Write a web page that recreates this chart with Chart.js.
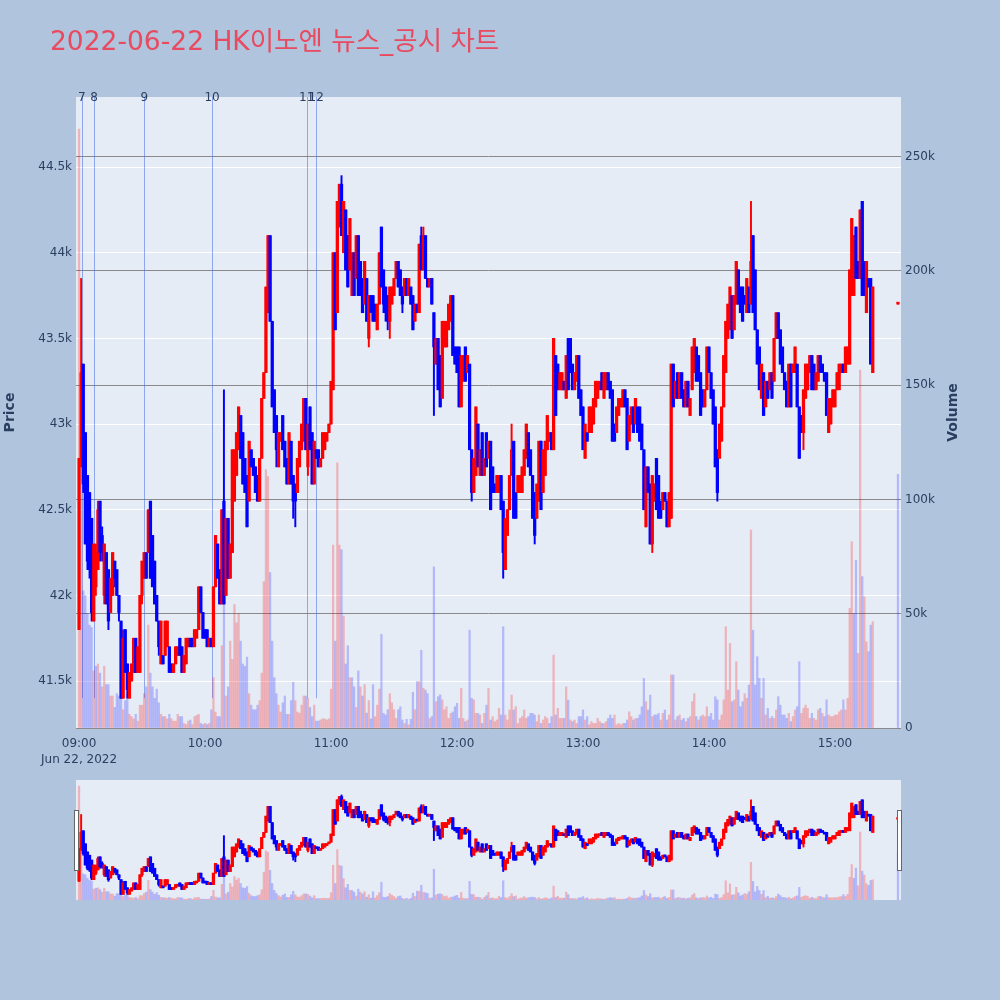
<!DOCTYPE html>
<html>
<head>
<meta charset="utf-8">
<script src="https://cdn.jsdelivr.net/npm/chart.js@4.4.0/dist/chart.umd.min.js"></script>
<style>
  html, body { margin: 0; padding: 0; background: #b0c4de; }
  #wrap { position: relative; width: 1000px; height: 1000px; }
  #main { position: absolute; left: 0; top: 0; }
  #slider { position: absolute; left: 0; top: 780px; }
</style>
</head>
<body>
<div id="wrap">
  <canvas id="main" width="1000" height="775" style="width:1000px;height:775px"></canvas>
  <canvas id="slider" width="1000" height="120" style="width:1000px;height:120px"></canvas>
</div>
<script>
/* ── DATA ── */
const chartTitle = '2022-06-22 HK이노엔 뉴스_공시 차트';
const dateLabel  = 'Jun 22, 2022';
const startTime  = '09:00';            // first 1-minute candle, one candle per minute after that

const opens = [
  41800,42800,43350,42950,42700,42600,42450,41850,42050,42150,
  42550,42350,42000,42250,42150,41900,42000,42200,42150,42000,
  41850,41400,41800,41600,41400,41500,41550,41750,41550,41550,
  42000,42100,42250,42250,42550,42350,42200,42000,41850,41600,
  41650,41650,41700,41700,41600,41550,41600,41650,41750,41700,
  41550,41600,41700,41750,41750,41700,41750,41800,42050,41900,
  41800,41800,41700,41750,41700,42050,42300,42150,41950,42550,
  42000,42450,42100,42250,42550,42700,42850,43050,42950,42800,
  42700,42550,42850,42800,42750,42700,42550,42800,43150,43300,
  43650,44100,43600,43200,43050,42750,42900,43050,42900,42800,
  42650,42900,42700,42650,42600,42750,42850,42900,43150,42750,
  43100,42950,42650,42850,42850,42750,42800,42850,42900,42950,
  43000,43200,44000,43650,44150,44400,44000,44250,44100,43900,
  43750,44000,43850,44100,43950,43850,43700,43850,43500,43750,
  43750,43700,43550,43700,44150,43900,43800,43750,43600,43700,
  43750,43850,43950,43900,43800,43750,43850,43750,43800,43750,
  43600,43700,43650,44100,43900,44100,43850,43800,43850,43650,
  43350,43500,43400,43150,43450,43450,43550,43600,43750,43450,
  43450,43450,43100,43250,43450,43300,43350,42850,42600,42700,
  43000,42700,42950,42700,42950,42800,42900,42750,42650,42600,
  42600,42700,42550,42150,42350,42500,42700,42900,42600,42600,
  42600,42600,42700,42800,42950,42850,42700,42600,42450,42550,
  42900,42600,42700,42850,42900,42950,42850,43400,43350,43200,
  43200,43250,43150,43500,43500,43350,43200,43250,43400,43200,
  43100,42800,42950,42950,42950,43000,43100,43150,43200,43300,
  43150,43200,43300,43250,43200,43000,42950,43050,43100,43100,
  43200,43150,42900,43000,43100,43000,43100,43100,43000,42850,
  42400,42750,42650,42300,42550,42800,42700,42550,42500,42600,
  42550,42400,42450,43350,43150,43300,43150,43300,43200,43100,
  43250,43050,43200,43300,43450,43400,43300,43200,43100,43200,
  43450,43300,43200,43100,42850,42800,42900,43100,43300,43500,
  43550,43750,43550,43700,43900,43800,43800,43750,43650,43800,
  43700,44100,43900,43550,43450,43150,43300,43100,43250,43200,
  43300,43250,43500,43650,43550,43450,43300,43250,43100,43350,
  43300,43300,43350,43100,43050,42950,43150,43200,43300,43400,
  43350,43200,43250,43400,43350,43300,43300,42950,43000,43100,
  43100,43200,43200,43300,43350,43300,43350,43350,43750,43750,
  44150,43950,43850,44300,43950,43650,43850,43850,43300
];
const highs = [
  42800,43850,43350,42950,42700,42600,42450,42300,42300,42550,
  42550,42400,42300,42250,42150,42100,42250,42200,42150,42000,
  41850,41800,41800,41600,41550,41600,41750,41750,41700,42000,
  42200,42250,42250,42500,42550,42350,42200,42000,41850,41850,
  41650,41850,41850,41700,41600,41600,41700,41700,41750,41700,
  41650,41750,41750,41750,41750,41800,41800,42050,42050,41900,
  41800,41800,41750,41750,42050,42350,42300,42150,42500,43200,
  42450,42450,42300,42850,42850,42950,43100,43050,42950,42800,
  42700,42900,42850,42800,42750,42700,42800,43150,43300,43800,
  44100,44100,43600,43200,43050,42950,42950,43050,42900,42800,
  42950,42900,42700,42650,42800,42900,43000,43150,43150,43000,
  43100,42950,42900,42850,42850,42800,42950,42950,42950,43000,
  43250,44000,44000,44300,44400,44450,44300,44250,44100,44200,
  44000,44000,44100,44100,43950,43850,43950,43850,43750,43750,
  43750,43700,43700,44000,44150,43900,43800,43750,43800,43800,
  43850,43950,43950,43900,43800,43850,43850,43850,43800,43750,
  43700,43700,44050,44150,44150,44100,43850,43850,43850,43650,
  43500,43500,43400,43600,43600,43600,43700,43750,43750,43450,
  43450,43450,43400,43400,43450,43400,43350,42850,42800,43100,
  43000,42850,42950,42800,42950,42900,42900,42750,42650,42700,
  42700,42700,42550,42450,42500,42700,43000,42900,42600,42700,
  42700,42750,42850,43000,42950,42850,42700,42600,42650,42900,
  42900,42850,42900,43050,42950,42950,43500,43400,43350,43300,
  43300,43250,43400,43500,43500,43350,43300,43400,43400,43200,
  43100,43000,42950,43100,43100,43150,43250,43250,43250,43300,
  43300,43300,43300,43250,43200,43000,43100,43150,43150,43200,
  43200,43150,43050,43100,43100,43150,43100,43100,43000,42850,
  42750,42750,42650,42700,42650,42800,42700,42550,42600,42600,
  42550,42600,43350,43350,43250,43300,43300,43300,43200,43250,
  43250,43150,43450,43500,43450,43400,43300,43200,43200,43450,
  43450,43300,43200,43100,42850,43000,43100,43400,43600,43700,
  43800,43750,43750,43950,43900,43800,43800,43750,43850,43800,
  44300,44100,43900,43550,43450,43350,43300,43250,43250,43300,
  43300,43500,43650,43650,43550,43450,43300,43250,43350,43350,
  43350,43450,43350,43100,43050,43200,43350,43350,43400,43400,
  43350,43300,43400,43400,43350,43300,43300,43150,43150,43200,
  43200,43300,43350,43350,43350,43450,43450,43900,44200,44100,
  44150,43950,44250,44300,43950,43950,43850,43850,43800
];
const lows = [
  41800,42750,42600,42300,42150,42100,41850,41850,42000,42150,
  42200,42200,41950,41950,41800,41900,42000,42050,42000,41850,
  41400,41400,41550,41400,41400,41500,41550,41550,41550,41550,
  41950,42100,42100,42250,42100,42050,41950,41850,41650,41600,
  41600,41650,41700,41550,41550,41550,41600,41650,41650,41550,
  41550,41600,41700,41700,41700,41700,41750,41800,41900,41750,
  41750,41700,41700,41700,41700,42050,42100,41950,41950,41950,
  42000,42100,42100,42250,42550,42700,42850,42800,42650,42600,
  42400,42550,42750,42700,42600,42550,42550,42800,43150,43300,
  43650,43600,43100,42950,42750,42750,42900,42850,42750,42650,
  42650,42650,42450,42400,42600,42750,42850,42900,42850,42700,
  42850,42650,42650,42800,42750,42750,42800,42850,42900,42950,
  43000,43200,43550,43650,44150,44100,44000,43900,43800,43900,
  43750,43750,43850,43750,43750,43650,43700,43600,43450,43650,
  43600,43600,43550,43700,43800,43650,43600,43550,43500,43700,
  43750,43850,43800,43750,43650,43750,43750,43750,43700,43550,
  43600,43650,43650,43900,43900,43850,43800,43800,43700,43050,
  43350,43200,43100,43150,43450,43450,43550,43600,43400,43350,
  43300,43100,43100,43250,43250,43300,42850,42550,42600,42700,
  42750,42700,42700,42700,42750,42800,42500,42600,42600,42600,
  42600,42500,42100,42150,42350,42500,42700,42450,42450,42600,
  42600,42600,42700,42800,42750,42700,42450,42300,42450,42550,
  42500,42600,42700,42850,42900,42850,42850,43050,43200,43200,
  43200,43200,43150,43200,43300,43200,43200,43250,43150,43050,
  42850,42800,42900,42950,42950,43000,43100,43150,43200,43200,
  43150,43200,43200,43150,42900,42900,42950,43050,43100,43100,
  43100,42850,42900,43000,42950,43000,42950,42900,42850,42500,
  42400,42600,42300,42250,42550,42500,42450,42450,42500,42550,
  42400,42400,42450,43100,43150,43150,43150,43150,43100,43100,
  43100,43050,43200,43300,43250,43250,43050,43100,43100,43200,
  43300,43150,43000,42750,42550,42800,42900,43100,43300,43500,
  43550,43500,43550,43700,43700,43650,43600,43700,43650,43650,
  43700,43650,43550,43350,43200,43150,43050,43100,43150,43200,
  43150,43250,43500,43500,43350,43300,43200,43100,43100,43100,
  43300,43300,43100,42800,42950,42850,43150,43200,43300,43200,
  43200,43200,43250,43300,43300,43250,43050,42950,43000,43100,
  43100,43200,43200,43300,43300,43300,43350,43350,43750,43750,
  43850,43850,43850,43750,43750,43650,43800,43350,43300
];
const closes = [
  42800,43300,42650,42300,42200,42150,41900,42300,42250,42500,
  42250,42250,42300,41950,41850,42100,42250,42100,42000,41900,
  41400,41750,41550,41450,41550,41600,41750,41550,41700,42000,
  42200,42250,42100,42500,42100,42050,41950,41850,41700,41850,
  41600,41850,41850,41550,41550,41600,41700,41700,41650,41550,
  41650,41750,41750,41700,41700,41800,41800,42050,41900,41750,
  41750,41700,41750,41700,42050,42350,42100,41950,42500,41950,
  42450,42100,42300,42850,42850,42950,43100,42800,42650,42600,
  42400,42900,42750,42700,42600,42550,42800,43150,43300,43800,
  44100,43600,43100,42950,42850,42950,42950,42850,42750,42650,
  42950,42650,42550,42550,42800,42900,43000,43150,42850,43000,
  42850,42650,42900,42800,42750,42800,42950,42950,42950,43000,
  43250,44000,43550,44300,44400,44100,44300,43900,43800,44200,
  44000,43750,44100,43750,43750,43650,43950,43600,43750,43650,
  43600,43600,43700,44000,43800,43700,43650,43600,43800,43800,
  43850,43950,43800,43750,43700,43850,43750,43850,43700,43550,
  43700,43650,44050,43900,44100,43850,43800,43850,43700,43450,
  43500,43200,43100,43600,43600,43600,43700,43750,43400,43350,
  43300,43100,43400,43400,43250,43400,42850,42600,42800,43100,
  42750,42850,42700,42800,42750,42900,42500,42600,42600,42700,
  42700,42500,42250,42450,42500,42700,42850,42450,42450,42700,
  42700,42750,42850,43000,42750,42700,42450,42350,42650,42900,
  42500,42850,42900,43050,42950,42850,43500,43050,43200,43300,
  43300,43200,43400,43200,43300,43200,43300,43400,43150,43050,
  42850,43000,42900,43100,43100,43150,43250,43250,43250,43200,
  43300,43300,43200,43150,42900,42900,43100,43150,43150,43200,
  43100,42850,43050,43100,42950,43150,42950,42900,42850,42500,
  42750,42600,42300,42700,42650,42500,42450,42450,42600,42550,
  42400,42600,43350,43100,43250,43150,43300,43150,43100,43250,
  43100,43150,43450,43500,43250,43250,43050,43100,43200,43450,
  43300,43150,43000,42750,42600,43000,43100,43400,43600,43700,
  43800,43500,43750,43950,43700,43650,43600,43700,43850,43650,
  43950,43650,43550,43350,43200,43350,43050,43250,43150,43300,
  43150,43500,43650,43500,43350,43300,43200,43100,43350,43100,
  43350,43450,43100,42800,42950,43200,43350,43350,43400,43200,
  43200,43300,43400,43300,43300,43250,43050,43150,43150,43200,
  43200,43300,43350,43350,43300,43450,43450,43900,44200,44100,
  43850,43850,44250,43750,43750,43950,43800,43350,43800
];
// volume per candle, thousands of shares
const volumesK = [
  262,150,60,58,50,45,44,25,27,28,
  24,18,27,19,19,14,14,9,15,14,
  14,8,12,15,6,5,4,6,3,10,
  10,15,18,45,24,18,13,17,11,6,
  5,5,4,6,4,3,3,6,5,5,
  2,1.5,3,3.5,1.5,5,5.5,6,2,1.5,
  2,1.5,2,8,22,7,5,5,36,60,
  14,18,38,30,54,46,50,38,28,27,
  31,15,10,8,8,10,12,24,64,113,
  110,68,38,22,15,10,7,11,14,6,
  6,12,20,12,7,6.5,10,14,14,13,
  9,5,10,3,3,3.5,4,4,3.5,4,
  17,80,38,116,80,78,49,28,36,22,
  22,18,9,25,18,14,19,6.5,12,4,
  19,5,10,17,41,6.4,5.7,8,15,11,
  8,4.2,8,9.3,3.5,2,3.8,1.4,3.8,15.6,
  8,20.3,20.3,34,17.4,16.6,15,4.2,5,70.5,
  11.5,13.7,14.5,12.3,8,9.3,4.2,6.4,7,9.3,
  10.8,4.2,17.4,4.2,2.8,3.5,42.8,13,12.3,6.4,
  6.4,5.7,2,6.4,10,17.3,3.5,5,2.8,3.5,
  8.6,5.7,44.3,5.7,3.5,7.9,14.4,7.9,9.3,2,
  4.2,5,7.9,4.2,5,6.4,6.4,5.7,2.8,5.7,
  2,3.5,5,4.2,2,5,31.9,5.7,8.6,4.2,
  4.2,4.2,18,12.2,3.5,2.8,3.5,2,5,5,
  7.9,3.5,5,1.4,2.8,2,2,4.2,2.8,2,
  2,2.8,4.2,5.7,4.2,5.7,1.4,2,1.4,2,
  2,3.5,7.1,5,3.5,4.2,4.2,5.7,9.3,21.7,
  11.5,7.9,14.4,5,5.7,5.7,6.4,3.5,6.4,7.9,
  3.5,5.7,23.2,23.2,3.5,5,5.7,3.5,4.2,2.8,
  4.2,5,11.5,15,5,3.5,5,5.7,5,9.3,
  5,6.4,3.5,13.7,12.3,3.5,5.7,12.3,44.3,16.6,
  37,11.5,12.3,29,16.6,9.3,11.5,15,13,18.8,
  86.6,42.8,18.8,31.2,21.7,13,21.7,5.7,8.6,4.2,
  5,4.2,7.9,13.7,10,5.7,5.7,4.2,6.4,2.8,
  5,7.9,9.3,29,6.4,8.6,10,8.6,4.2,6.4,
  4.2,3.5,7.9,8.6,6.4,5,12.3,5.7,5,5,
  5.7,5.7,7.1,7.9,12.3,7.9,13,52.3,81.5,50,
  73.4,32.6,156.5,66.2,57.4,37.7,33.4,45,46.5
];
// closing auction print
const auctionTime = '15:30';
const auctionOHLC = [43700, 43700, 43700, 43700];
const auctionVolumeK = 111;

// news / disclosure markers
const newsTimes  = ['09:01:20', '09:07:10', '09:31:05', '10:03:20', '10:48:25', '10:52:55'];
const newsLabels = ['7', '8', '9', '10', '11', '12'];

// axes
const hourTicks   = ['09:00', '10:00', '11:00', '12:00', '13:00', '14:00', '15:00'];
const priceTicks  = [41500, 42000, 42500, 43000, 43500, 44000, 44500];
const volumeTicks = [0, 50, 100, 150, 200, 250];

/* ── STYLE ── */
const UP = '#ff0000', DOWN = '#0000ff';
const UP_VOL = 'rgba(255,0,0,0.24)', DOWN_VOL = 'rgba(0,0,255,0.22)';
const INK = '#2a3f5f';
const FONT = '"DejaVu Sans", Verdana, "Noto Sans CJK KR", sans-serif';
const PLOT_BG = '#e5ecf6';
const X_RANGE = [-1.45, 391.45];
const PRICE_RANGE = [41226, 44909];
const VOL_RANGE = [0, 276];

/* ── BUILD ── */
function toMin(t) {
  const p = t.split(':').map(Number);
  return (p[0] - 9) * 60 + p[1] + (p[2] || 0) / 60;
}
const t0 = toMin(startTime);
const candles = opens.map((o, i) => ({ x: t0 + i, o, h: highs[i], l: lows[i], c: closes[i], v: volumesK[i] }));
candles.push({ x: toMin(auctionTime), o: auctionOHLC[0], h: auctionOHLC[1], l: auctionOHLC[2], c: auctionOHLC[3], v: auctionVolumeK });

const candleColors = candles.map(k => k.c >= k.o ? UP : DOWN);
// volume coloured against previous close
const volColors = candles.map((k, i) => {
  const ref = i === 0 ? k.o : candles[i - 1].c;
  return k.c >= ref ? UP_VOL : DOWN_VOL;
});

function datasets() {
  return [
    { label: 'Volume', yAxisID: 'yVol', order: 3, grouped: false, barThickness: 1.6,
      data: candles.map(k => ({ x: k.x, y: k.v })), backgroundColor: volColors },
    { label: 'Wick', yAxisID: 'y', order: 2, grouped: false, barThickness: 1.3,
      data: candles.map(k => ({ x: k.x, y: [k.l, k.h] })), backgroundColor: candleColors },
    { label: 'Body', yAxisID: 'y', order: 1, grouped: false, barThickness: 2.6, minBarLength: 2,
      data: candles.map(k => ({ x: k.x, y: [Math.min(k.o, k.c), Math.max(k.o, k.c)] })), backgroundColor: candleColors }
  ];
}

const plotBg = {
  id: 'plotBg',
  beforeDraw(chart) {
    const a = chart.chartArea, ctx = chart.ctx;
    ctx.save(); ctx.fillStyle = PLOT_BG; ctx.fillRect(a.left, a.top, a.right - a.left, a.bottom - a.top); ctx.restore();
  }
};

const newsMarks = {
  id: 'newsMarks',
  beforeDatasetsDraw(chart) {
    const { ctx, chartArea: a, scales: { x, y } } = chart;
    const bottom = y.getPixelForValue(Math.min(...lows));
    ctx.save();
    ctx.strokeStyle = 'rgba(70,110,230,0.55)'; ctx.lineWidth = 1;
    newsTimes.forEach(t => {
      const px = Math.round(x.getPixelForValue(toMin(t))) + 0.5;
      ctx.beginPath(); ctx.moveTo(px, a.top); ctx.lineTo(px, bottom); ctx.stroke();
    });
    ctx.restore();
  },
  afterDraw(chart) {
    const { ctx, chartArea: a, scales: { x } } = chart;
    ctx.save();
    ctx.fillStyle = INK; ctx.font = '12px ' + FONT;
    ctx.textAlign = 'center'; ctx.textBaseline = 'middle';
    newsTimes.forEach((t, i) => ctx.fillText(newsLabels[i], x.getPixelForValue(toMin(t)), a.top + 0.5));
    // title
    ctx.fillStyle = '#e84a5f'; ctx.font = '26.5px ' + FONT;
    ctx.textAlign = 'left'; ctx.textBaseline = 'alphabetic';
    ctx.fillText(chartTitle, 50, 50);
    // axis titles
    ctx.fillStyle = INK; ctx.font = 'bold 14px ' + FONT;
    ctx.textAlign = 'center'; ctx.textBaseline = 'middle';
    const cy = (a.top + a.bottom) / 2;
    [['Price', 10], ['Volume', 953]].forEach(([txt, cx]) => {
      ctx.save(); ctx.translate(cx, cy); ctx.rotate(-Math.PI / 2); ctx.fillText(txt, 0, 0); ctx.restore();
    });
    ctx.restore();
  }
};

const sliderHandles = {
  id: 'sliderHandles',
  afterDraw(chart) {
    const { ctx, chartArea: a } = chart;
    const h = 60, w = 4, top = (a.top + a.bottom) / 2 - h / 2;
    ctx.save();
    ctx.fillStyle = '#ffffff'; ctx.strokeStyle = '#666666'; ctx.lineWidth = 1;
    [a.left - 2, a.right - 4].forEach(x0 => {
      ctx.fillRect(x0 + 0.5, top + 0.5, w, h);
      ctx.strokeRect(x0 + 0.5, top + 0.5, w, h);
    });
    ctx.restore();
  }
};

const tickFont = { family: FONT, size: 12, lineHeight: 1.3 };

new Chart(document.getElementById('main'), {
  type: 'bar',
  data: { datasets: datasets() },
  options: {
    responsive: false, animation: false, events: [],
    layout: { padding: { top: 97, left: 0, right: 0, bottom: 0 } },
    plugins: { legend: { display: false }, tooltip: { enabled: false } },
    scales: {
      x: {
        type: 'linear', min: X_RANGE[0], max: X_RANGE[1], offset: false,
        grid: { display: false, drawTicks: false }, border: { display: false },
        afterBuildTicks: s => { s.ticks = hourTicks.map(t => ({ value: toMin(t) })); },
        ticks: { autoSkip: false, maxRotation: 0, color: INK, font: tickFont, padding: 8,
                 callback: (v, i) => i === 0 ? [hourTicks[0], dateLabel] : hourTicks[i] },
        afterFit: s => { s.height = 47; }
      },
      y: {
        position: 'left', min: PRICE_RANGE[0], max: PRICE_RANGE[1],
        grid: { color: '#ffffff', lineWidth: 1, drawTicks: false }, border: { display: false },
        afterBuildTicks: s => { s.ticks = priceTicks.map(v => ({ value: v })); },
        ticks: { color: INK, font: tickFont, padding: 4, callback: v => (v / 1000) + 'k' },
        afterFit: s => { s.width = 76; }
      },
      yVol: {
        position: 'right', min: VOL_RANGE[0], max: VOL_RANGE[1],
        grid: { color: '#8a8a8a', lineWidth: 1, drawTicks: false }, border: { display: false },
        afterBuildTicks: s => { s.ticks = volumeTicks.map(v => ({ value: v })); },
        ticks: { color: INK, font: tickFont, padding: 4, callback: v => v === 0 ? '0' : v + 'k' },
        afterFit: s => { s.width = 99; }
      }
    }
  },
  plugins: [plotBg, newsMarks]
});

// range slider: same series squeezed into a thin strip
new Chart(document.getElementById('slider'), {
  type: 'bar',
  data: { datasets: datasets() },
  options: {
    responsive: false, animation: false, events: [],
    layout: { padding: { top: 0, left: 76, right: 99, bottom: 0 } },
    plugins: { legend: { display: false }, tooltip: { enabled: false } },
    scales: {
      x: { type: 'linear', display: false, min: X_RANGE[0], max: X_RANGE[1], offset: false },
      y: { display: false, min: PRICE_RANGE[0], max: PRICE_RANGE[1] },
      yVol: { display: false, position: 'right', min: VOL_RANGE[0], max: VOL_RANGE[1] }
    }
  },
  plugins: [plotBg, sliderHandles]
});
</script>
</body>
</html>
